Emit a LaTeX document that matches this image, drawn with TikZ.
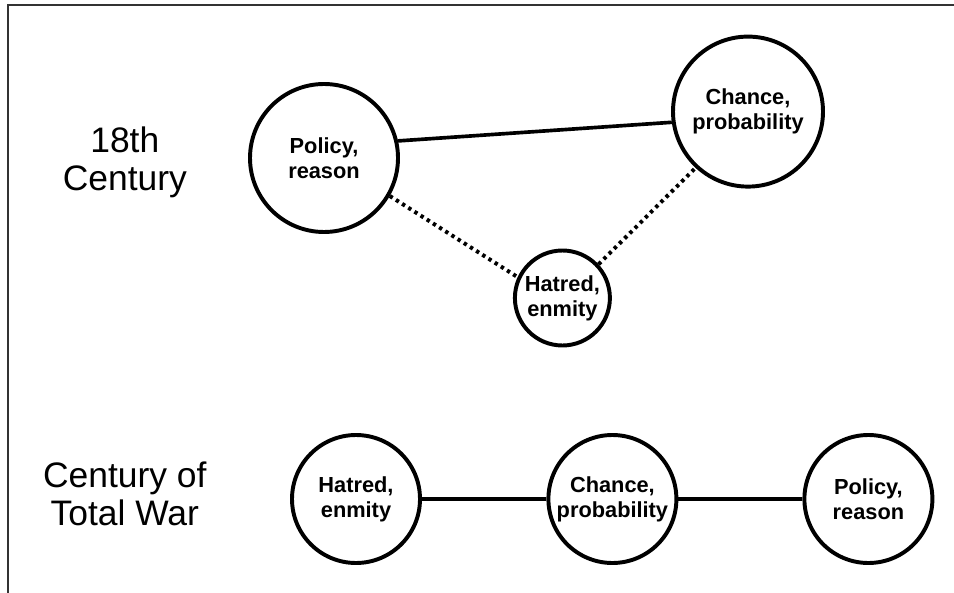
\documentclass[tikz,border=0pt]{standalone}
\usepackage{fontspec}
\setmainfont{Liberation Sans}
\usepackage{tikz}
\usetikzlibrary{positioning}
\usepackage{xcolor}
\definecolor{framecolor}{RGB}{51,51,51}
\tikzstyle{force} = [circle, draw=black, line width=2.8pt, fill=white, inner sep=0pt, align=center, font=\fontsize{15.5}{17.8}\selectfont\bfseries]
\tikzstyle{era} = [align=center, font=\fontsize{25.2}{27}\selectfont]
\tikzstyle{link} = [line width=2.6pt, black]
\tikzstyle{weaklink} = [line width=2.8pt, black, dash pattern=on 2.4pt off 2.8pt]

\begin{document}
\begin{tikzpicture}
\useasboundingbox (0,0) rectangle (23.85,14.8);

% Frame
\draw[line width=1.8pt, framecolor] (0.2,-0.5) -- (0.2,14.67) -- (24.5,14.67);

% Era labels
\node[era] (eighteenth) at (3.12,10.75) {18th\\Century};
\node[era] (totalwar) at (3.12,2.46) {Century of\\Total War};

% 18th century trinity
\node[force, minimum size=3.7cm] (policy) at (8.1,10.85) {Policy,\\reason};
\node[force, minimum size=3.75cm] (chance) at (18.7,12.01) {Chance,\\probability};
\node[force, minimum size=2.375cm] (hatred) at (14.06,7.35) {Hatred,\\enmity};

\draw[link] (policy.13) -- (chance.188);
\draw[weaklink] (policy.-30) -- (hatred.155);
\draw[weaklink] (hatred.43) -- (chance.227);

% Total war trinity
\node[force, minimum size=3.2cm] (hatredtw) at (8.9,2.325) {Hatred,\\enmity};
\node[force, minimum size=3.2cm] (chancetw) at (15.31,2.325) {Chance,\\probability};
\node[force, minimum size=3.2cm] (policytw) at (21.71,2.325) {Policy,\\reason};

\draw[link] (hatredtw) -- (chancetw);
\draw[link] (chancetw) -- (policytw);

\end{tikzpicture}
\end{document}
